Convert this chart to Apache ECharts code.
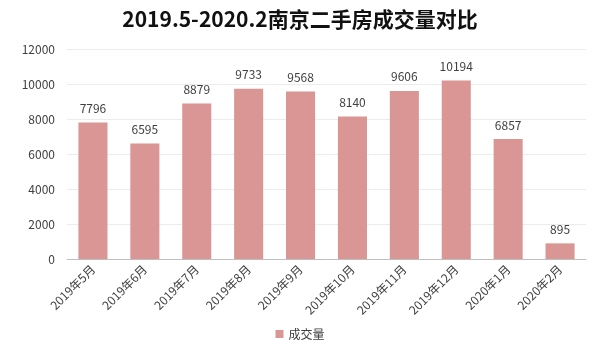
<!DOCTYPE html>
<html><head><meta charset="utf-8">
<script src="https://cdn.jsdelivr.net/npm/echarts@6/dist/echarts.min.js"></script>
<style>html,body{margin:0;padding:0;background:#fff}#c{width:600px;height:348px}</style>
</head><body><div id="c"></div>
<script>
const categories = ['2019年5月','2019年6月','2019年7月','2019年8月','2019年9月','2019年10月','2019年11月','2019年12月','2020年1月','2020年2月'];
const values = [7796, 6595, 8879, 9733, 9568, 8140, 9606, 10194, 6857, 895];
const seriesName = '成交量';
const titleText = '2019.5-2020.2南京二手房成交量对比';
const font = '"Noto Sans CJK SC", "Noto Sans", sans-serif';
const chart = echarts.init(document.getElementById('c'));
chart.setOption({
  animation: false,
  title: {text: titleText, left: 'center', top: 4,
    textStyle: {fontSize: 21, fontWeight: 'bold', color: '#111', fontFamily: font}},
  grid: {left: 67, right: 14, top: 49, bottom: 89, containLabel: false},
  legend: {bottom: 3, left: 'center', itemWidth: 8, itemHeight: 8, icon: 'rect', itemGap: 4,
    textStyle: {fontSize: 12, color: '#404040', fontFamily: font}, data: [seriesName]},
  xAxis: {type: 'category', data: categories,
    axisLine: {lineStyle: {color: '#bfbfbf'}}, axisTick: {show: false},
    axisLabel: {rotate: 45, fontSize: 12, color: '#404040', fontFamily: font, margin: 8, interval: 0}},
  yAxis: {type: 'value', min: 0, max: 12000, interval: 2000,
    axisLine: {show: false}, axisTick: {show: false},
    splitLine: {lineStyle: {color: '#ececec'}},
    axisLabel: {fontSize: 12, color: '#404040', fontFamily: font, margin: 12, formatter: v => String(v)}},
  series: [{name: seriesName, type: 'bar', data: values, barWidth: '56%',
    itemStyle: {color: '#d99694'},
    label: {show: true, position: 'top', fontSize: 12, color: '#404040', fontFamily: font, distance: 8}}]
});
</script></body></html>
